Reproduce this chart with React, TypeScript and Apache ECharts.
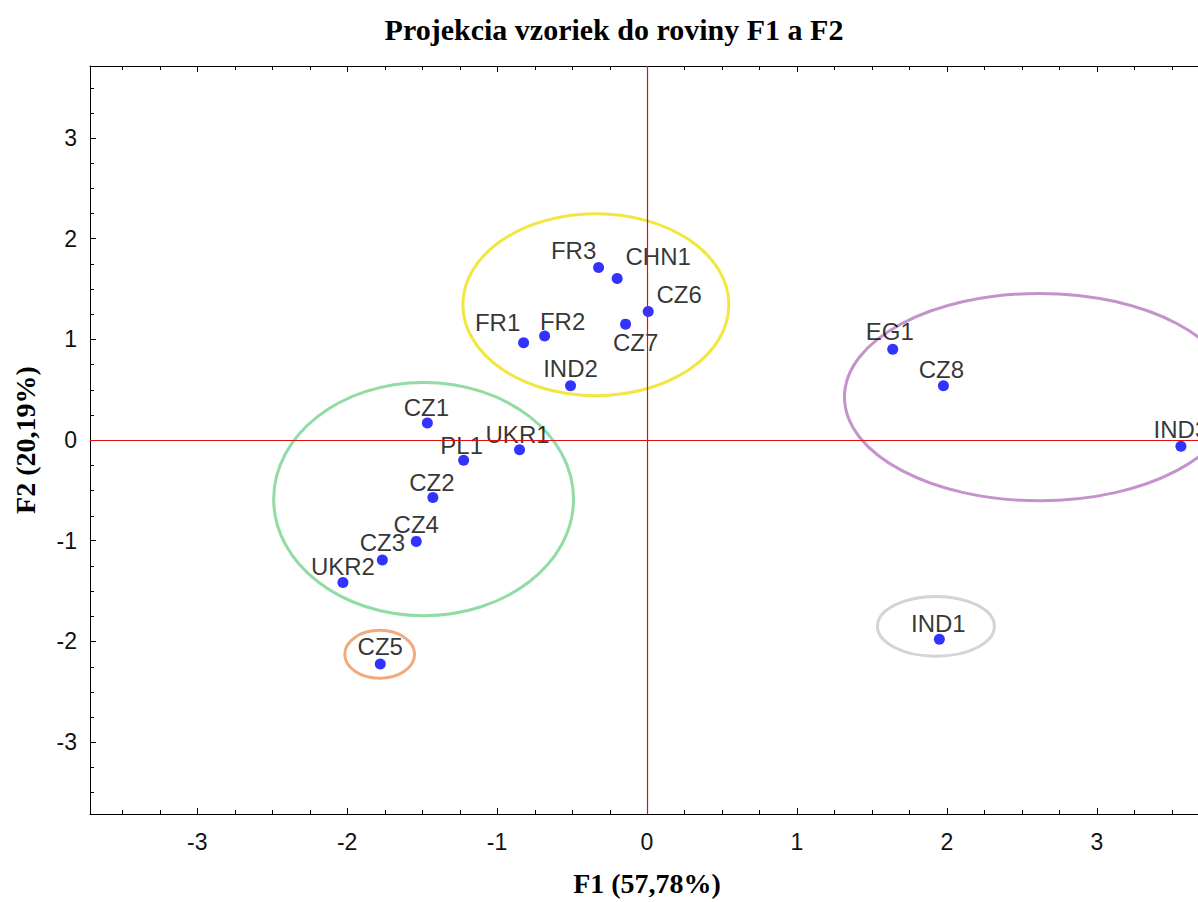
import React, { useEffect, useRef } from "react";
import * as echarts from "echarts";

const sampleNames = ["FR3", "CHN1", "CZ6", "CZ7", "FR1", "FR2", "IND2", "CZ1", "PL1", "UKR1", "CZ2", "CZ4", "CZ3", "UKR2", "CZ5", "EG1", "CZ8", "IND3", "IND1"];
const f1Values = [-0.323, -0.199, 0.008, -0.143, -0.823, -0.683, -0.51, -1.465, -1.223, -0.85, -1.428, -1.539, -1.765, -2.028, -1.779, 1.639, 1.977, 3.561, 1.95];
const f2Values = [1.713, 1.604, 1.277, 1.151, 0.967, 1.033, 0.538, 0.168, -0.201, -0.096, -0.571, -1.007, -1.191, -1.416, -2.225, 0.901, 0.538, -0.062, -1.98];

// label placement (pixel offsets from point centre)
const labelOffsets: number[][] = [
  [-25, -17], [41, -22], [31, -17], [10, 18], [-26, -20], [18, -15], [0, -17],
  [-1, -16], [-2, -15], [-2, -15], [-1, -15], [0, -17], [0, -17], [0, -16],
  [0, -17], [-3, -18], [-2, -16], [0, -17], [-1, -16],
];

// cluster ellipses (data units)
const ellipseCx = [-0.341, -1.49, 2.617, -1.783, 1.927];
const ellipseCy = [1.344, -0.587, 0.426, -2.129, -1.851];
const ellipseRx = [0.887, 1.0, 1.3, 0.233, 0.39];
const ellipseRy = [0.904, 1.158, 1.03, 0.238, 0.297];
const ellipseColors = ["#f2e640", "#90dca4", "#c593cc", "#f0aa7c", "#d4d4d4"];

const minorTicks = [-3.5, -3.25, -2.75, -2.5, -2.25, -1.75, -1.5, -1.25, -0.75, -0.5, -0.25, 0.25, 0.5, 0.75, 1.25, 1.5, 1.75, 2.25, 2.5, 2.75, 3.25, 3.5];

const AXIS_MIN = -3.715;
const AXIS_MAX = 3.715;

export default function App() {
  const ref = useRef<HTMLDivElement>(null);
  useEffect(() => {
    if (!ref.current) return;
    const chart = echarts.init(ref.current, null, { renderer: "svg" });
    const tickFont = { fontFamily: "'Liberation Sans', Arial, sans-serif", fontSize: 23, color: "#111" };
    const pointFont = { fontFamily: "'Liberation Sans', Arial, sans-serif", fontSize: 24, color: "#000" };
    const serifBold = { fontFamily: "'Liberation Serif', 'Times New Roman', serif", fontWeight: "bold" as const, color: "#000" };
    const baseAxis = {
      type: "value" as const,
      min: AXIS_MIN,
      max: AXIS_MAX,
      splitNumber: 7,
      axisLine: { show: true, onZero: false, lineStyle: { color: "#000", width: 1 } },
      axisTick: { show: true, inside: true, length: 6, lineStyle: { color: "#000" } },
      splitLine: { show: false },
    };
    const scatterData = sampleNames.map((n, i) => ({
      name: n,
      value: [f1Values[i], f2Values[i]],
      label: { offset: labelOffsets[i] },
    }));
    const ellipseData = ellipseCx.map((cx, i) => [cx, ellipseCy[i], ellipseRx[i], ellipseRy[i]]);
    const tickData = [
      ...minorTicks.map((v) => [v, 0, 0]),
      ...minorTicks.map((v) => [0, v, 1]),
    ];
    chart.setOption({
      animation: false,
      backgroundColor: "#fff",
      title: {
        text: "Projekcia vzoriek do roviny F1 a F2",
        left: 609,
        top: 9,
        textAlign: "center",
        textStyle: { ...serifBold, fontSize: 30 },
      },
      grid: { left: 90, top: 66, width: 1114, height: 750 },
      xAxis: [
        {
          ...baseAxis,
          position: "bottom",
          name: "F1 (57,78%)",
          nameLocation: "middle",
          nameGap: 55,
          nameTextStyle: { ...serifBold, fontSize: 28 },
          axisLabel: { ...tickFont, margin: 16, showMinLabel: false, showMaxLabel: false },
        },
        {
          ...baseAxis,
          position: "top",
          axisLabel: { show: false },
        },
      ],
      yAxis: [
        {
          ...baseAxis,
          position: "left",
          name: "F2 (20,19%)",
          nameLocation: "middle",
          nameGap: 51,
          nameTextStyle: { ...serifBold, fontSize: 28 },
          axisLabel: { ...tickFont, margin: 13, showMinLabel: false, showMaxLabel: false },
        },
        {
          ...baseAxis,
          position: "right",
          axisLabel: { show: false },
        },
      ],
      series: [
        {
          type: "custom",
          z: 1,
          silent: true,
          data: ellipseData,
          renderItem: (params: any, api: any) => {
            const c = api.coord([api.value(0), api.value(1)]);
            const s = api.size([api.value(2), api.value(3)]);
            return {
              type: "ellipse",
              shape: { cx: c[0], cy: c[1], rx: s[0], ry: s[1] },
              style: { fill: "none", stroke: ellipseColors[params.dataIndex], lineWidth: 3 },
            };
          },
        },
        {
          type: "custom",
          z: 2,
          silent: true,
          data: tickData,
          renderItem: (params: any, api: any) => {
            const cs = params.coordSys;
            const kind = api.value(2);
            const len = 4;
            const st = { stroke: "#000", lineWidth: 1 };
            if (kind === 0) {
              const px = Math.round(api.coord([api.value(0), 0])[0]) + 0.5;
              const b = cs.y + cs.height;
              return {
                type: "group",
                children: [
                  { type: "line", shape: { x1: px, y1: b, x2: px, y2: b - len }, style: st },
                  { type: "line", shape: { x1: px, y1: cs.y, x2: px, y2: cs.y + len }, style: st },
                ],
              };
            }
            const py = Math.round(api.coord([0, api.value(1)])[1]) + 0.5;
            const r = cs.x + cs.width;
            return {
              type: "group",
              children: [
                { type: "line", shape: { x1: cs.x, y1: py, x2: cs.x + len, y2: py }, style: st },
                { type: "line", shape: { x1: r, y1: py, x2: r - len, y2: py }, style: st },
              ],
            };
          },
        },
        {
          type: "scatter",
          z: 3,
          symbol: "circle",
          symbolSize: 11,
          itemStyle: { color: "#0000ff" },
          label: {
            show: true,
            position: "inside",
            formatter: "{b}",
            align: "center",
            verticalAlign: "middle",
            ...pointFont,
          },
          markLine: {
            silent: true,
            symbol: "none",
            label: { show: false },
            lineStyle: { color: "#e01010", width: 1.2, type: "solid", opacity: 1 },
            emphasis: { disabled: true },
            data: [{ xAxis: 0 }, { yAxis: 0 }],
          },
          data: scatterData,
        },
      ],
    });
    return () => chart.dispose();
  }, []);
  return (
    <div style={{ position: "fixed", left: 0, top: 0, width: 1198, height: 902, overflow: "hidden", background: "#fff" }}>
      <div ref={ref} style={{ width: 1230, height: 902 }} />
    </div>
  );
}
